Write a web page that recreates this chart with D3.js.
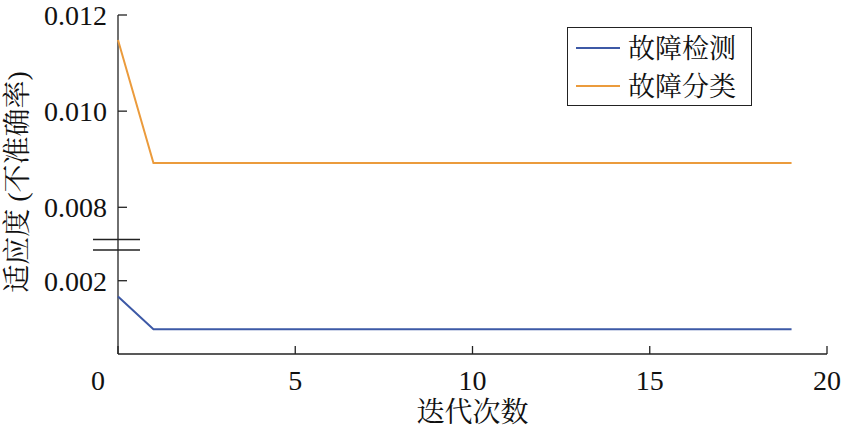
<!DOCTYPE html>
<html><head><meta charset="utf-8">
<script src="https://cdn.jsdelivr.net/npm/d3@7"></script>
<style>body{margin:0;background:#fff}svg{display:block}
.num{font-family:"Liberation Serif","Tinos","Times New Roman",Times,"DejaVu Serif",serif;}
.cjk{font-family:"Liberation Serif","Tinos","Times New Roman","Noto Serif CJK SC","Noto Sans CJK SC",serif;}
.t2{font-family:"DejaVu Serif";}
</style>
</head><body>
<svg id="c" width="843" height="432"></svg>
<script>
const iterations = d3.range(0, 20);
const detectValues = [0.00167, 0.00099, 0.00099, 0.00099, 0.00099, 0.00099, 0.00099, 0.00099, 0.00099, 0.00099, 0.00099, 0.00099, 0.00099, 0.00099, 0.00099, 0.00099, 0.00099, 0.00099, 0.00099, 0.00099];
const classifyValues = [0.01148, 0.00892, 0.00892, 0.00892, 0.00892, 0.00892, 0.00892, 0.00892, 0.00892, 0.00892, 0.00892, 0.00892, 0.00892, 0.00892, 0.00892, 0.00892, 0.00892, 0.00892, 0.00892, 0.00892];
const seriesNames = ["故障检测", "故障分类"];
const seriesColors = ["#3d59a6", "#eb9b3c"];
const xTicks = [0, 5, 10, 15, 20];
const upperTicks = [0.008, 0.010, 0.012];
const lowerTicks = [0.002];

const svg = d3.select("#c");
const x = d3.scaleLinear().domain([0, 20]).range([118, 827]);
const yUp = d3.scaleLinear().domain([0.00733, 0.012]).range([239.5, 15]);
const yLo = d3.scaleLinear().domain([0.000473, 0.00264]).range([354, 250]);

const ax = "#222";
const gx = svg.append("g").attr("transform", "translate(0,354)");
gx.append("line").attr("x1", x(0)).attr("x2", x(20)).attr("stroke", ax).attr("stroke-width", 1.3);
gx.selectAll(".t").data(xTicks).enter().append("line")
  .attr("x1", d => x(d)).attr("x2", d => x(d)).attr("y1", 0).attr("y2", -8).attr("stroke", ax).attr("stroke-width", 1.3);
gx.selectAll("text").data(xTicks).enter().append("text").attr("class", "num")
  .attr("x", d => x(d) - (d === 0 ? 20 : 0)).attr("y", 36).attr("text-anchor", "middle")
  .attr("font-size", 28).attr("fill", "#111").text(d => d);

const x0 = x(0);
svg.append("line").attr("x1", x0).attr("x2", x0).attr("y1", yUp.range()[1]).attr("y2", 354).attr("stroke", ax).attr("stroke-width", 1.3);
function yTicks(scale, ticks, fmt) {
  const g = svg.append("g");
  g.selectAll("line").data(ticks).enter().append("line")
    .attr("x1", x0).attr("x2", x0 + 9).attr("y1", d => scale(d)).attr("y2", d => scale(d)).attr("stroke", ax).attr("stroke-width", 1.3);
  g.selectAll("text").data(ticks).enter().append("text").attr("class", "num")
    .attr("x", x0 - 11).attr("y", d => scale(d)).attr("dy", "0.35em").attr("text-anchor", "end")
    .attr("font-size", 28).attr("fill", "#111").text(fmt);
}
yTicks(yUp, upperTicks, d3.format(".3f"));
yTicks(yLo, lowerTicks, d3.format(".3f"));
[yUp.range()[0], yLo.range()[1]].forEach(yy => {
  svg.append("line").attr("x1", 93).attr("x2", 140).attr("y1", yy).attr("y2", yy).attr("stroke", ax).attr("stroke-width", 1.4);
});

const lineUp = d3.line().x((d, i) => x(iterations[i])).y(d => yUp(d));
const lineLo = d3.line().x((d, i) => x(iterations[i])).y(d => yLo(d));
svg.append("path").datum(detectValues).attr("d", lineLo).attr("fill", "none").attr("stroke", seriesColors[0]).attr("stroke-width", 2);
svg.append("path").datum(classifyValues).attr("d", lineUp).attr("fill", "none").attr("stroke", seriesColors[1]).attr("stroke-width", 2);

svg.append("text").attr("class", "cjk").attr("x", (x(0) + x(20)) / 2).attr("y", 422).attr("text-anchor", "middle")
  .attr("font-size", 28).attr("fill", "#111").text("迭代次数");
svg.append("text").attr("class", "cjk").attr("transform", "translate(27,182) rotate(-90)").attr("text-anchor", "middle")
  .attr("font-size", 28).attr("fill", "#111").text("适应度 (不准确率)");

const lg = svg.append("g");
lg.append("rect").attr("x", 567.5).attr("y", 27.5).attr("width", 184).attr("height", 78).attr("fill", "#fff").attr("stroke", ax).attr("stroke-width", 1);
seriesNames.forEach((n, i) => {
  const yy = 48 + i * 38;
  lg.append("line").attr("x1", 576).attr("x2", 620).attr("y1", yy).attr("y2", yy).attr("stroke", seriesColors[i]).attr("stroke-width", 2);
  lg.append("text").attr("class", "cjk").attr("x", 628).attr("y", yy).attr("dy", "0.36em").attr("font-size", 27).attr("fill", "#111").text(n);
});
</script>
</body></html>
